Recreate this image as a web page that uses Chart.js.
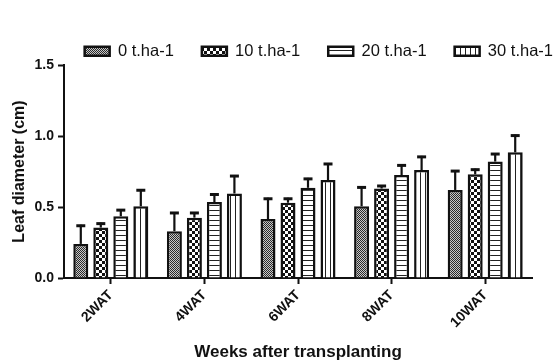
<!DOCTYPE html>
<html><head><meta charset="utf-8">
<script src="https://cdn.jsdelivr.net/npm/chart.js@4/dist/chart.umd.min.js"></script>
<style>html,body{margin:0;padding:0;background:#fff}#wrap{width:558px;height:361px}</style>
</head><body><div id="wrap"><canvas id="c" width="558" height="361"></canvas></div>
<script>
const categories = ['2WAT','4WAT','6WAT','8WAT','10WAT'];
const seriesNames = ['0 t.ha-1','10 t.ha-1','20 t.ha-1','30 t.ha-1'];
const values0  = [0.24, 0.33, 0.415, 0.505, 0.62];
const values10 = [0.355, 0.425, 0.53, 0.63, 0.73];
const values20 = [0.435, 0.535, 0.635, 0.725, 0.82];
const values30 = [0.505, 0.595, 0.69, 0.76, 0.885];
const err0  = [0.135, 0.135, 0.15, 0.14, 0.14];
const err10 = [0.035, 0.04, 0.035, 0.025, 0.04];
const err20 = [0.05, 0.06, 0.07, 0.075, 0.06];
const err30 = [0.12, 0.13, 0.12, 0.10, 0.125];
const yTicks = [0, 0.5, 1.0, 1.5];

function makePattern(kind){
  const c = document.createElement('canvas');
  const ctx = c.getContext('2d');
  if(kind===0){
    c.width=2;c.height=2;
    ctx.fillStyle='#c8c8c8';ctx.fillRect(0,0,2,2);
    ctx.fillStyle='#2a2a2a';ctx.fillRect(0,0,1,1);ctx.fillRect(1,1,1,1);
  } else if(kind===1){
    c.width=6;c.height=6;
    ctx.fillStyle='#111';ctx.fillRect(0,0,6,6);
    ctx.fillStyle='#fff';ctx.fillRect(0,0,3,3);ctx.fillRect(3,3,3,3);
  } else if(kind===2){
    c.width=5;c.height=5;
    ctx.fillStyle='#fff';ctx.fillRect(0,0,5,5);
    ctx.fillStyle='#222';ctx.fillRect(0,0,5,1);
  } else {
    c.width=5;c.height=5;
    ctx.fillStyle='#fff';ctx.fillRect(0,0,5,5);
    ctx.fillStyle='#222';ctx.fillRect(0,0,1,5);
  }
  return document.getElementById('c').getContext('2d').createPattern(c,'repeat');
}

const allValues=[values0,values10,values20,values30];
const allErr=[err0,err10,err20,err30];

const errorBars = {
  id:'errorBars',
  afterDatasetsDraw(chart){
    const ctx=chart.ctx, y=chart.scales.y;
    chart.data.datasets.forEach((ds,i)=>{
      const meta=chart.getDatasetMeta(i);
      meta.data.forEach((bar,j)=>{
        const top=y.getPixelForValue(allValues[i][j]+allErr[i][j]);
        const x=bar.x;
        ctx.save();
        ctx.strokeStyle='#111';
        ctx.lineWidth=2.2;
        ctx.beginPath();ctx.moveTo(x,bar.y);ctx.lineTo(x,top);ctx.stroke();
        ctx.lineWidth=3;
        ctx.beginPath();ctx.moveTo(x-4.5,top+1);ctx.lineTo(x+4.5,top+1);ctx.stroke();
        ctx.restore();
      });
    });
  }
};

const font='"Liberation Sans", Arial, sans-serif';
const chart = new Chart(document.getElementById('c'),{
  type:'bar',
  data:{
    labels:categories,
    datasets:allValues.map((v,i)=>({
      label:seriesNames[i],
      data:v,
      backgroundColor:makePattern(i),
      borderColor:'#111',
      borderWidth:2.5,
      borderSkipped:'bottom',
      categoryPercentage:0.855,
      barPercentage:0.75
    }))
  },
  options:{
    responsive:false,animation:false,
    layout:{padding:{left:6,right:-23,top:15,bottom:-2}},
    plugins:{
      legend:{position:'top',align:'end',labels:{boxWidth:25,boxHeight:9,padding:28,color:'#111',font:{family:font,size:16.5}}},
      tooltip:{enabled:false}
    },
    scales:{
      x:{
        afterFit(s){s.height=85;},
        grid:{display:true,drawOnChartArea:false,drawTicks:true,tickLength:6,tickColor:'#111',tickWidth:2,offset:false},
        border:{color:'#111',width:2},
        ticks:{maxRotation:45,minRotation:45,color:'#111',padding:3,font:{family:font,size:14,weight:'bold'}},
        title:{display:true,text:'Weeks after transplanting',color:'#111',font:{family:font,size:17,weight:'bold'},padding:{top:0,bottom:0}}
      },
      y:{
        min:0,max:1.5,
        afterFit(s){s.width=58;},
        afterBuildTicks(s){s.ticks=yTicks.map(v=>({value:v}));},
        grid:{display:true,drawOnChartArea:false,drawTicks:true,tickLength:6,tickColor:'#111',tickWidth:2},
        border:{color:'#111',width:2},
        ticks:{color:'#111',padding:4,font:{family:font,size:14,weight:'bold'},callback:v=>Number(v).toFixed(1)},
        title:{display:true,text:'Leaf diameter (cm)',color:'#111',font:{family:font,size:16,weight:'bold'}}
      },
      y2:{
        position:'right',
        afterFit(s){s.width=49;},
        grid:{display:false},
        border:{display:false},
        ticks:{display:false}
      }
    }
  },
  plugins:[errorBars]
});
const legendBox = chart.legend;
const origFit = legendBox.fit.bind(legendBox);
legendBox.fit = function(){ origFit(); this.height = 50; };
chart.update();
</script></body></html>
